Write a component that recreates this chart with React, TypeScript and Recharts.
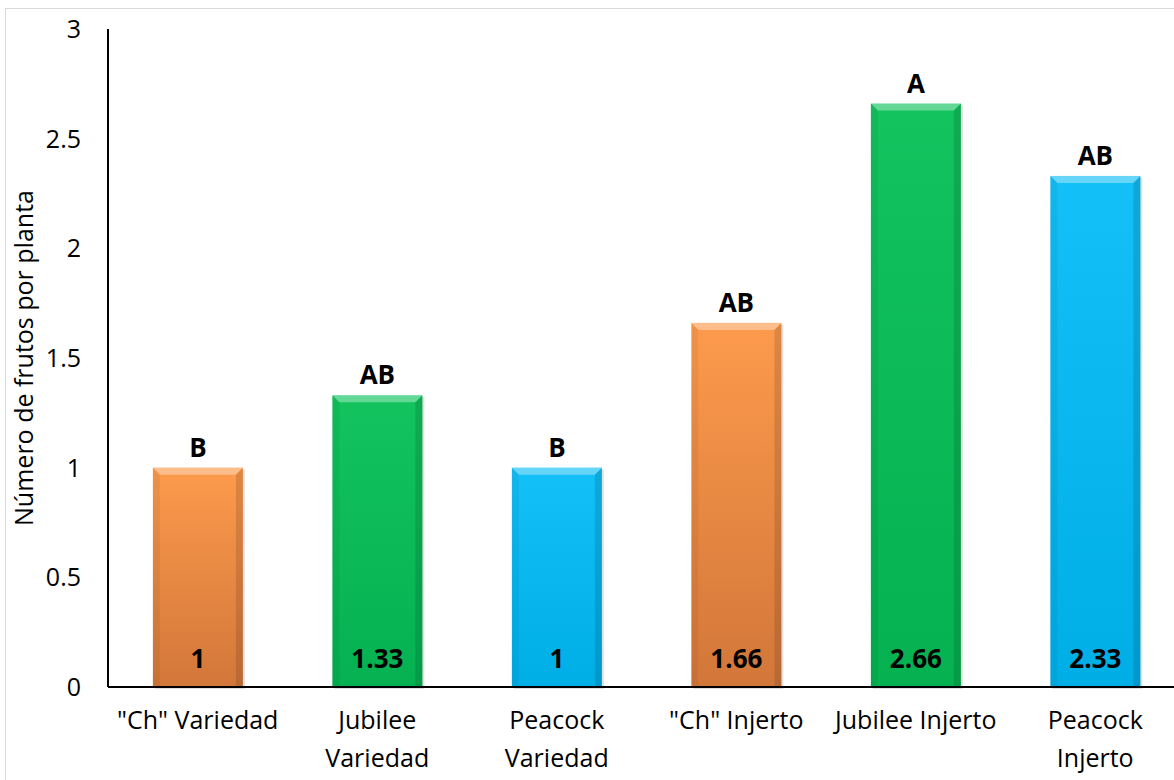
import { BarChart, Bar, XAxis, YAxis, Cell, LabelList, Label } from "recharts";

const categories = ['"Ch" Variedad', "Jubilee Variedad", "Peacock Variedad", '"Ch" Injerto', "Jubilee Injerto", "Peacock Injerto"];
const tickLines = [['"Ch" Variedad'], ["Jubilee", "Variedad"], ["Peacock", "Variedad"], ['"Ch" Injerto'], ["Jubilee Injerto"], ["Peacock", "Injerto"]];
const values = [1, 1.33, 1, 1.66, 2.66, 2.33];
const letters = ["B", "AB", "B", "AB", "A", "AB"];
const fills = ["orange", "green", "blue", "orange", "green", "blue"];
const yTicks = [0, 0.5, 1, 1.5, 2, 2.5, 3];

const data = categories.map((name, i) => ({ name, value: values[i], letter: letters[i], fill: fills[i] }));

const FONT = "'Open Sans', Lato, sans-serif";

const GRAD: Record<string, [string, string]> = {
  orange: ["#fd9a4c", "#d2773a"],
  green: ["#12c35e", "#05b151"],
  blue: ["#13c0f7", "#00aee6"],
};

// bar with a bevelled top, like the Office preset
function BevelBar(props: any) {
  const { x, y, width, height, payload } = props;
  if (height <= 0) return null;
  const b = 7;
  const key = payload.fill;
  return (
    <g>
      <rect x={x + 2} y={y + 2} width={width} height={height} fill="rgba(0,0,0,0.12)" />
      <rect x={x} y={y} width={width} height={height} fill={`url(#g-${key})`} />
      <polygon points={`${x},${y} ${x + width},${y} ${x + width - b},${y + b} ${x + b},${y + b}`} fill="rgba(255,255,255,0.35)" />
      <polygon points={`${x},${y} ${x + b},${y + b} ${x + b},${y + height} ${x},${y + height}`} fill="rgba(0,0,0,0.05)" />
      <polygon points={`${x + width},${y} ${x + width - b},${y + b} ${x + width - b},${y + height} ${x + width},${y + height}`} fill="rgba(0,0,0,0.12)" />
    </g>
  );
}

function LetterLabel(props: any) {
  const { x, y, width, value } = props;
  return (
    <text x={x + width / 2} y={y - 11} textAnchor="middle" fontFamily={FONT} fontWeight={700} fontSize={26} fill="#000">
      {value}
    </text>
  );
}

function ValueLabel(props: any) {
  const { x, y, width, height, value } = props;
  return (
    <text x={x + width / 2} y={y + height - 19} textAnchor="middle" fontFamily={FONT} fontWeight={700} fontSize={26} fill="#000">
      {value}
    </text>
  );
}

function CategoryTick(props: any) {
  const { x, y, index } = props;
  const lines = tickLines[index] ?? [];
  return (
    <g transform={`translate(${x},${y})`}>
      {lines.map((l, i) => (
        <text key={i} x={0} y={i * 38} dy={34} textAnchor="middle" fontFamily={FONT} fontSize={25} fill="#000">
          {l}
        </text>
      ))}
    </g>
  );
}

export default function App() {
  return (
    <div style={{ position: "absolute", left: 0, top: 0, width: 1174, height: 780, background: "#fff", overflow: "hidden" }}>
      <div style={{ position: "absolute", left: 5, top: 8, width: 1200, height: 800, border: "1.5px solid #d9d9d9", boxSizing: "border-box" }} />
      <BarChart
        width={1185}
        height={780}
        data={data}
        margin={{ top: 29, right: 0, left: 0, bottom: 0 }}
        barCategoryGap="25%"
        style={{ position: "absolute", left: 0, top: 0 }}
      >
        <defs>
          {Object.entries(GRAD).map(([k, [a, b]]) => (
            <linearGradient key={k} id={`g-${k}`} x1="0" y1="0" x2="0" y2="1">
              <stop offset="0%" stopColor={a} />
              <stop offset="100%" stopColor={b} />
            </linearGradient>
          ))}
        </defs>
        <XAxis
          dataKey="name"
          height={93}
          interval={0}
          tick={<CategoryTick />}
          tickLine={false}
          axisLine={{ stroke: "#000", strokeWidth: 2 }}
        />
        <YAxis
          width={108}
          domain={[0, 3]}
          ticks={yTicks}
          tickLine={false}
          tickSize={0}
          tickMargin={27}
          axisLine={{ stroke: "#000", strokeWidth: 2 }}
          tick={{ fontFamily: FONT, fontSize: 25, fill: "#000" }}
        >
          <Label
            value="Número de frutos por planta"
            angle={-90}
            position="insideLeft"
            offset={24}
            style={{ textAnchor: "middle", fontFamily: FONT, fontSize: 25, fill: "#000" }}
          />
        </YAxis>
        <Bar dataKey="value" shape={<BevelBar />} isAnimationActive={false}>
          {data.map((d, i) => (
            <Cell key={i} fill={`url(#g-${d.fill})`} />
          ))}
          <LabelList dataKey="letter" content={<LetterLabel />} />
          <LabelList dataKey="value" content={<ValueLabel />} />
        </Bar>
      </BarChart>
    </div>
  );
}
